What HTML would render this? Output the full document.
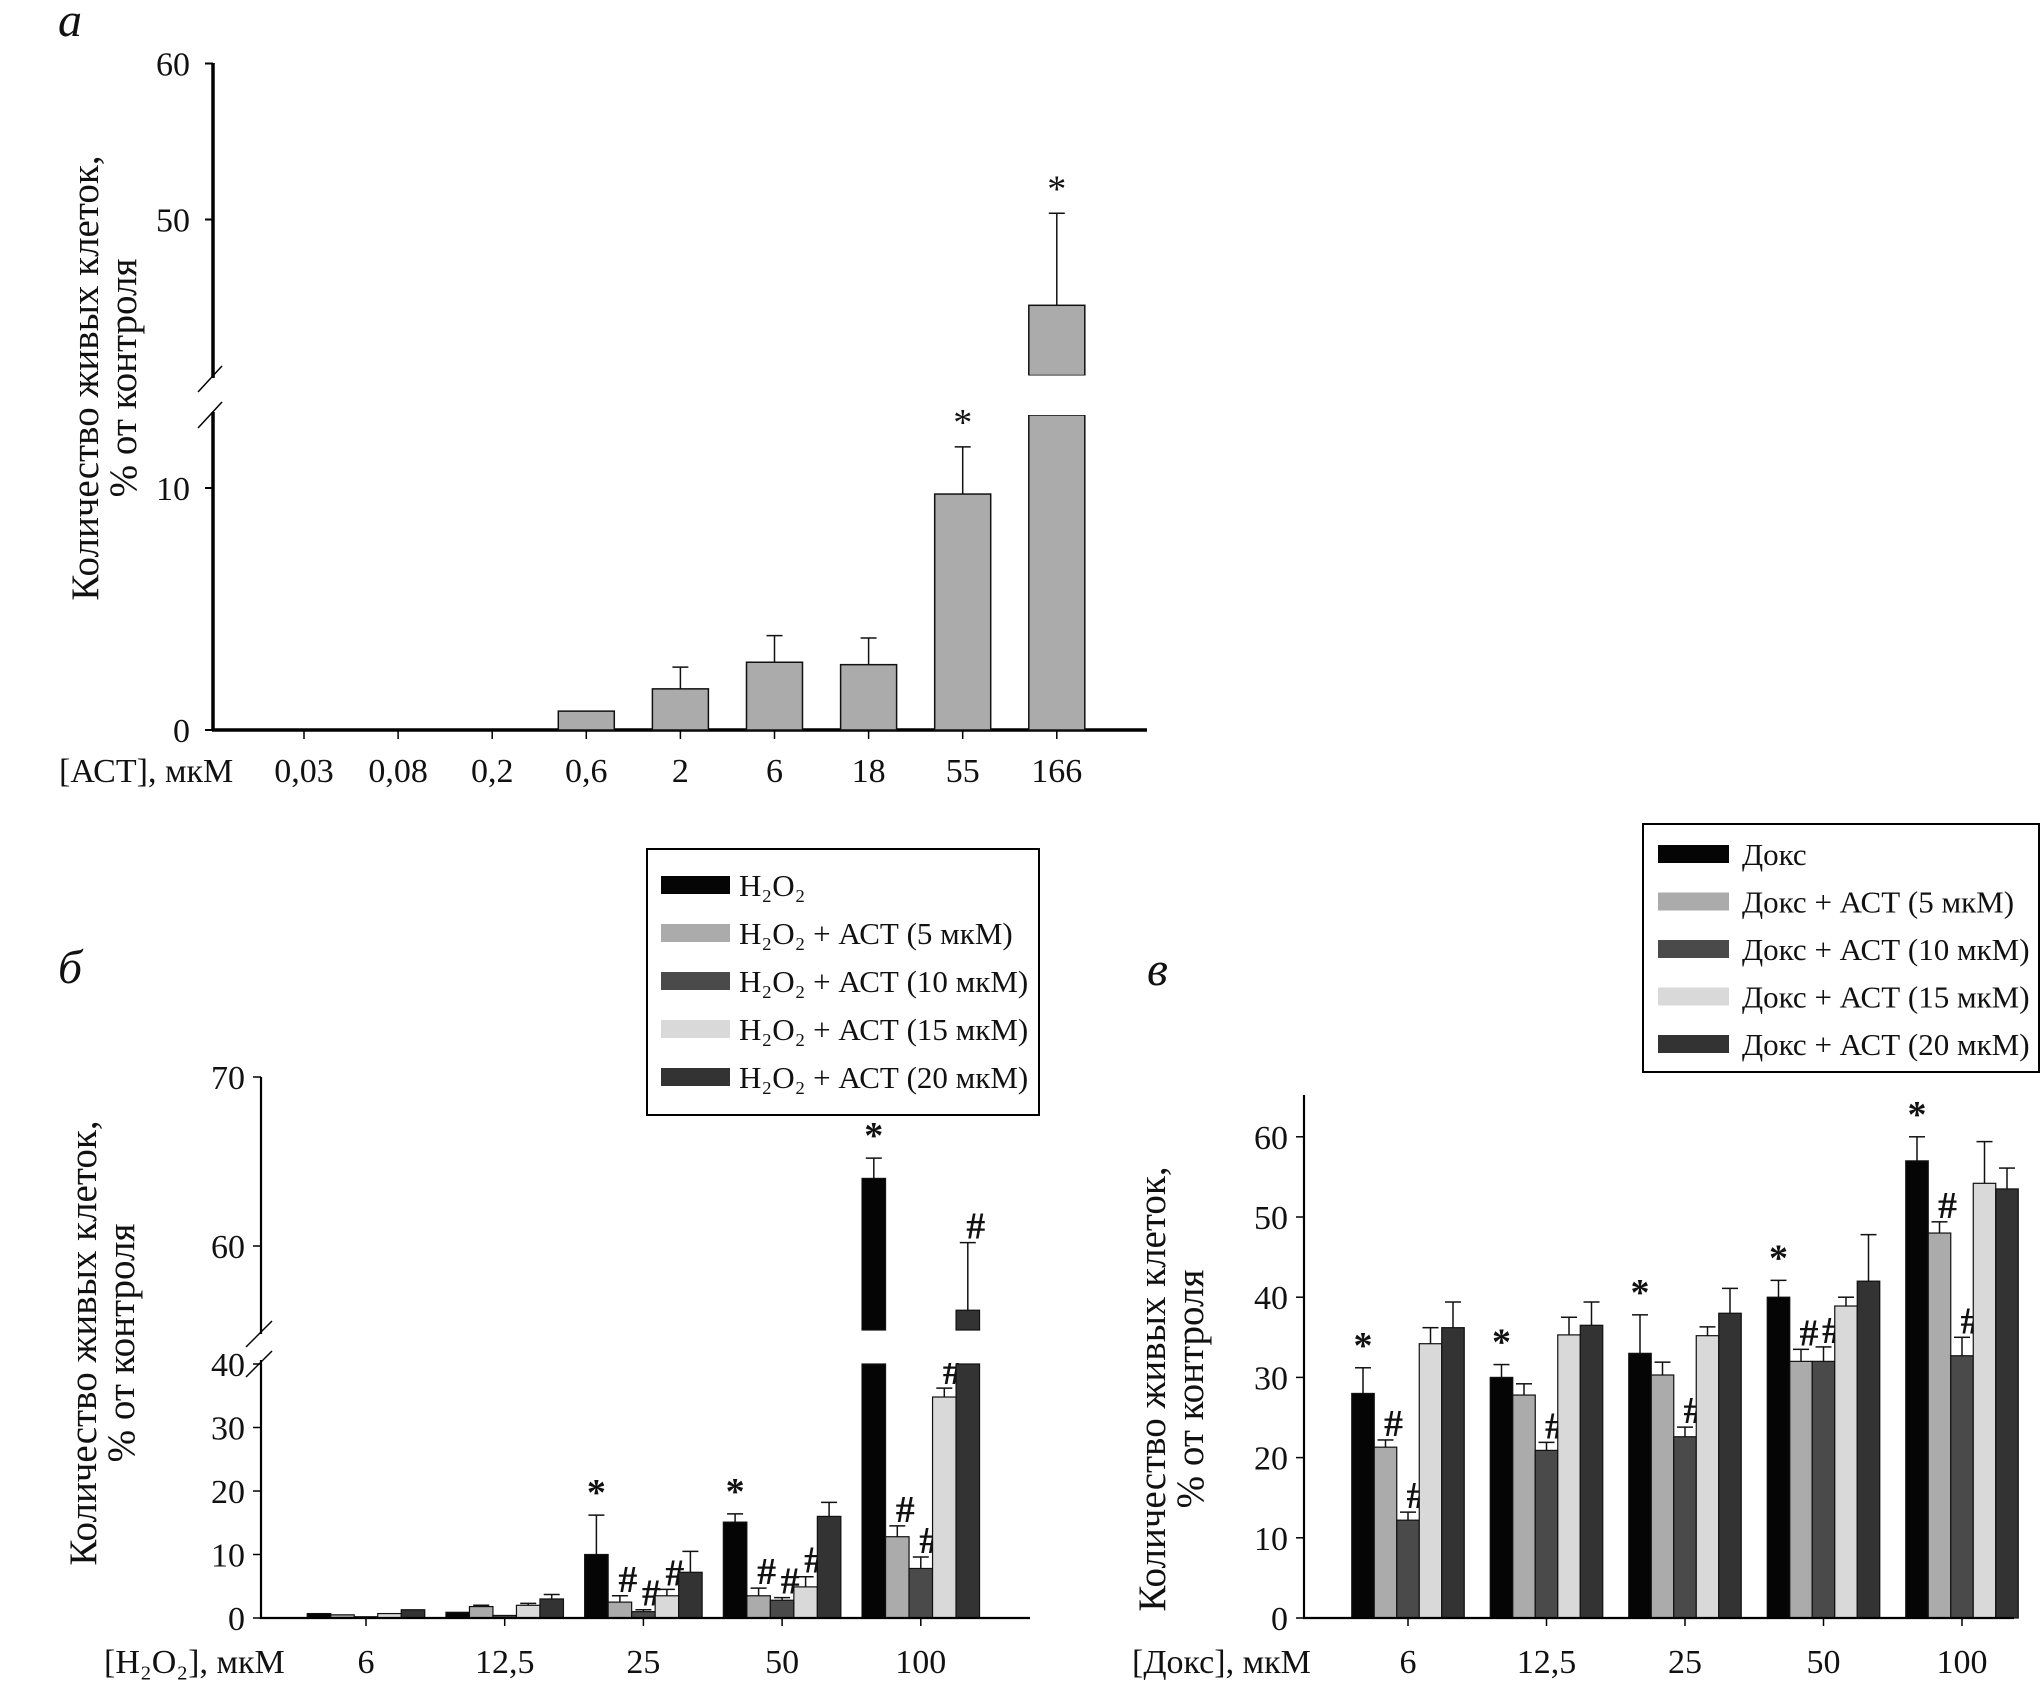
<!DOCTYPE html>
<html><head><meta charset="utf-8">
<style>
html,body{margin:0;padding:0;background:#fff;}
svg{display:block;}
text{font-family:"Liberation Serif","DejaVu Serif",serif;fill:#111;}
</style></head>
<body>
<svg id="fig" width="2043" height="1700" viewBox="0 0 2043 1700" xmlns="http://www.w3.org/2000/svg">
<g id="pa"></g>
<g id="pb"></g>
<g id="pc"></g>
</svg>
<script>
// ---- Panel A data ----
const aCategories = ["0,03","0,08","0,2","0,6","2","6","18","55","166"];
const aValues = [0,0,0,0.78,1.7,2.8,2.7,9.75,44.5];
const aErrors = [0,0,0,0,2.6,3.9,3.8,11.7,50.4];
const aStars = [false,false,false,false,false,false,false,true,true];
const aTicks = [0,10,40,50,60];

// ---- Panel B data ----
const bCategories = ["6","12,5","25","50","100"];
const bSeriesNames = ["H\u2082O\u2082","H\u2082O\u2082 + АСТ (5 мкМ)","H\u2082O\u2082 + АСТ (10 мкМ)","H\u2082O\u2082 + АСТ (15 мкМ)","H\u2082O\u2082 + АСТ (20 мкМ)"];
const bS0 = [0.7,0.9,10,15.1,64];
const bS1 = [0.5,1.8,2.5,3.5,12.8];
const bS2 = [0.2,0.4,1.0,2.8,7.8];
const bS3 = [0.7,2.0,3.5,4.9,34.8];
const bS4 = [1.3,3.0,7.2,16,56.2];
const bE0 = [0,0,16.2,16.4,65.2];
const bE1 = [0,2.0,3.5,4.7,14.5];
const bE2 = [0,0,1.3,3.2,9.6];
const bE3 = [0,2.3,4.5,6.5,36.2];
const bE4 = [0,3.7,10.5,18.2,60.2];
const bMarks = [["","","","",""],["","","","",""],["*","#","#","#",""],["*","#","#","#",""],["*","#","#","#","#"]];
const bTicks = [0,10,20,30,40,60,70];

// ---- Panel C data ----
const cCategories = ["6","12,5","25","50","100"];
const cSeriesNames = ["Докс","Докс + АСТ (5 мкМ)","Докс + АСТ (10 мкМ)","Докс + АСТ (15 мкМ)","Докс + АСТ (20 мкМ)"];
const cS0 = [28,30,33,40,57];
const cS1 = [21.3,27.8,30.3,32,48];
const cS2 = [12.2,20.9,22.6,32,32.7];
const cS3 = [34.2,35.3,35.2,38.9,54.2];
const cS4 = [36.2,36.5,38,42,53.5];
const cE0 = [31.2,31.6,37.8,42.1,60];
const cE1 = [22.2,29.2,31.9,33.5,49.4];
const cE2 = [13.2,21.9,23.8,33.8,35];
const cE3 = [36.2,37.5,36.3,40,59.4];
const cE4 = [39.4,39.4,41.1,47.8,56.1];
const cMarks = [["*","#","#","",""],["*","","#","",""],["*","","#","",""],["*","#","#","",""],["*","#","#","",""]];
const cTicks = [0,10,20,30,40,50,60];

const fills = ["#050505","#ababab","#4a4a4a","#d9d9d9","#333333"];
const NS = "http://www.w3.org/2000/svg";
const TICK_FS = 34, TITLE_FS = 39, LEG_FS = 31, MARK_FS = 38;
function mk(parent, tag, attrs, txt){
  const e = document.createElementNS(NS, tag);
  for (const k in attrs) e.setAttribute(k, attrs[k]);
  if (txt !== undefined) e.textContent = txt;
  parent.appendChild(e);
  return e;
}

function yA(v){ return v <= 40 ? 730 - v*24.2 : 375.5 - (v-40)*15.6; }
function xA(i){ return 304 + i*94.1; }
function yB(v){ return v <= 40 ? 1618 - v*6.35 : 1246 - (v-60)*16.9; }
function xB(i){ return 366 + i*138.7; }
function yC(v){ return 1618 - v*8.02; }
function xC(i){ return 1408 + i*138.5; }

// ===== Panel A =====
(function(){
  const g = document.getElementById('pa');
  let t = mk(g,'text',{x:58,y:36,'font-size':48,'font-style':'italic'},'а');
   
  let l = mk(g,'line',{x1:213,y1:63,x2:213,y2:378,stroke:'#000','stroke-width':3.5});
   
  l = mk(g,'line',{x1:213,y1:412,x2:213,y2:731,stroke:'#000','stroke-width':3.5});
   
  mk(g,'line',{x1:198,y1:392,x2:222,y2:366,stroke:'#000','stroke-width':1.5});
  mk(g,'line',{x1:198,y1:428,x2:222,y2:402,stroke:'#000','stroke-width':1.5});
  l = mk(g,'line',{x1:212,y1:730,x2:1147,y2:730,stroke:'#000','stroke-width':3.5});
   
  aTicks.forEach(v=>{
    const y = yA(v);
    mk(g,'line',{x1:205,y1:y,x2:213,y2:y,stroke:'#000','stroke-width':2});
    const tt = mk(g,'text',{x:190,y:y+12,'font-size':TICK_FS,'text-anchor':'end'},String(v));
     
  });
  const tl = mk(g,'text',{transform:'translate(98,378) rotate(-90)','font-size':TITLE_FS,'text-anchor':'middle'},'Количество живых клеток,');
   
  const tl2 = mk(g,'text',{transform:'translate(136,378) rotate(-90)','font-size':TITLE_FS,'text-anchor':'middle'},'% от контроля');
   
  const xt = mk(g,'text',{x:59,y:782,'font-size':TICK_FS},'[АСТ], мкМ');
   
  const bw = 56;
  aCategories.forEach((c,i)=>{
    const x = xA(i);
    mk(g,'line',{x1:x,y1:730,x2:x,y2:739,stroke:'#000','stroke-width':1.5});
    const lab = mk(g,'text',{x:x,y:782,'font-size':TICK_FS,'text-anchor':'middle'},c);
     
    const v = aValues[i];
    if (v > 0){
      if (v <= 40){
        const r = mk(g,'rect',{x:x-bw/2,y:yA(v),width:bw,height:730-yA(v),fill:fills[1],stroke:'#111','stroke-width':1.5});
         
      } else {
        const r = mk(g,'rect',{x:x-bw/2,y:415,width:bw,height:315,fill:fills[1],stroke:'#111','stroke-width':1.5});
         
        const r2 = mk(g,'rect',{x:x-bw/2,y:yA(v),width:bw,height:375.5-yA(v),fill:fills[1],stroke:'#111','stroke-width':1.5});
         
        mk(g,'rect',{x:x-bw/2-2,y:375.5,width:bw+4,height:39.5,fill:'#fff'});
      }
    }
    if (aErrors[i] > v){
      const e = mk(g,'line',{x1:x,y1:yA(v),x2:x,y2:yA(aErrors[i]),stroke:'#111','stroke-width':1.5});
       
      mk(g,'line',{x1:x-8,y1:yA(aErrors[i]),x2:x+8,y2:yA(aErrors[i]),stroke:'#111','stroke-width':1.5});
    }
    if (aStars[i]){
      const s = mk(g,'text',{x:x,y:yA(aErrors[i])-12,'font-size':MARK_FS,'text-anchor':'middle'},'*');
       
    }
  });
})();

function groupedPanel(gid, yF, xF, series, errors, marks, cats, ticks, opts){
  const g = document.getElementById(gid);
  const bw = opts.bw;
  cats.forEach((c,i)=>{
    const cx = xF(i);
    mk(g,'line',{x1:cx,y1:1618,x2:cx,y2:1626,stroke:'#000','stroke-width':1.5});
    const lab = mk(g,'text',{x:cx,y:1673,'font-size':TICK_FS,'text-anchor':'middle'},c);
     
    series.forEach((s,k)=>{
      const x = cx + (k-2)*bw - bw/2;
      const v = s[i];
      if (opts.brk && v > 40){
        const r = mk(g,'rect',{x:x,y:opts.brkLow,width:bw,height:1618-opts.brkLow,fill:fills[k],stroke:'#111','stroke-width':1.2});
         
        const r2 = mk(g,'rect',{x:x,y:yF(v),width:bw,height:opts.brkHigh-yF(v),fill:fills[k],stroke:'#111','stroke-width':1.2});
         
      } else {
        const r = mk(g,'rect',{x:x,y:yF(v),width:bw,height:1618-yF(v),fill:fills[k],stroke:'#111','stroke-width':1.2});
         
      }
      const ev = errors[k][i];
      const xc = x + bw/2;
      if (ev > v){
        const e = mk(g,'line',{x1:xc,y1:yF(v),x2:xc,y2:yF(ev),stroke:'#111','stroke-width':1.5});
         
        mk(g,'line',{x1:xc-8,y1:yF(ev),x2:xc+8,y2:yF(ev),stroke:'#111','stroke-width':1.5});
      }
      const m = marks[i][k];
      if (m){
        const top = Math.max(ev, v);
        const my = m === '*' ? yF(top) - 10 : yF(top) - 4;
        const mt = mk(g,'text',{x:xc + (m==='#'?8:0),y:my,'font-size':MARK_FS,'text-anchor':'middle','font-weight':'bold'},m);
         
      }
    });
  });
  ticks.forEach(v=>{
    const y = yF(v);
    mk(g,'line',{x1:opts.ax-8,y1:y,x2:opts.ax,y2:y,stroke:'#000','stroke-width':1.5});
    const tt = mk(g,'text',{x:opts.ax-16,y:y+12,'font-size':TICK_FS,'text-anchor':'end'},String(v));
     
  });
  return g;
}

// ===== Panel B =====
(function(){
  const g = groupedPanel('pb', yB, xB, [bS0,bS1,bS2,bS3,bS4], [bE0,bE1,bE2,bE3,bE4], bMarks, bCategories, bTicks, {bw:23.5, brk:true, brkLow:1364, brkHigh:1330, ax:261});
  mk(g,'rect',{x:840,y:1331,width:160,height:32,fill:'#fff'});
  let t = mk(g,'text',{x:58,y:983,'font-size':48,'font-style':'italic'},'б');
   
  let l = mk(g,'line',{x1:261,y1:1077,x2:261,y2:1334,stroke:'#000','stroke-width':2.2});
   
  l = mk(g,'line',{x1:261,y1:1360,x2:261,y2:1619,stroke:'#000','stroke-width':2.2});
   
  mk(g,'line',{x1:246,y1:1347,x2:272,y2:1321,stroke:'#000','stroke-width':1.5});
  mk(g,'line',{x1:246,y1:1377,x2:272,y2:1351,stroke:'#000','stroke-width':1.5});
  l = mk(g,'line',{x1:260,y1:1618,x2:1030,y2:1618,stroke:'#000','stroke-width':2.2});
   
  const tl = mk(g,'text',{transform:'translate(96,1343) rotate(-90)','font-size':TITLE_FS,'text-anchor':'middle'},'Количество живых клеток,');
   
  const tl2 = mk(g,'text',{transform:'translate(134,1343) rotate(-90)','font-size':TITLE_FS,'text-anchor':'middle'},'% от контроля');
   
  const xt = mk(g,'text',{x:104,y:1673,'font-size':TICK_FS},'[H\u2082O\u2082], мкМ');
   
  const lg = mk(g,'g',{});
   
  mk(lg,'rect',{x:647,y:849,width:392,height:266,fill:'#fff',stroke:'#000','stroke-width':2});
  bSeriesNames.forEach((n,k)=>{
    const y = 885 + k*48;
    const e = mk(lg,'g',{});
     
    mk(e,'rect',{x:661,y:y-9,width:69,height:18,fill:fills[k]});
    mk(e,'text',{x:739,y:y+11,'font-size':LEG_FS},n);
  });
})();

// ===== Panel C =====
(function(){
  const g = groupedPanel('pc', yC, xC, [cS0,cS1,cS2,cS3,cS4], [cE0,cE1,cE2,cE3,cE4], cMarks, cCategories, cTicks, {bw:22.5, brk:false, ax:1304});
  let t = mk(g,'text',{x:1147,y:985,'font-size':48,'font-style':'italic'},'в');
   
  let l = mk(g,'line',{x1:1304,y1:1095,x2:1304,y2:1619,stroke:'#000','stroke-width':2.2});
   
  l = mk(g,'line',{x1:1303,y1:1618,x2:2014,y2:1618,stroke:'#000','stroke-width':2.2});
   
  const tl = mk(g,'text',{transform:'translate(1165,1389) rotate(-90)','font-size':TITLE_FS,'text-anchor':'middle'},'Количество живых клеток,');
   
  const tl2 = mk(g,'text',{transform:'translate(1203,1389) rotate(-90)','font-size':TITLE_FS,'text-anchor':'middle'},'% от контроля');
   
  const xt = mk(g,'text',{x:1132,y:1673,'font-size':TICK_FS},'[Докс], мкМ');
   
  const lg = mk(g,'g',{});
   
  mk(lg,'rect',{x:1643,y:824,width:396,height:248,fill:'#fff',stroke:'#000','stroke-width':2});
  cSeriesNames.forEach((n,k)=>{
    const y = 854 + k*47.5;
    const e = mk(lg,'g',{});
     
    mk(e,'rect',{x:1658,y:y-9,width:71,height:18,fill:fills[k]});
    mk(e,'text',{x:1742,y:y+11,'font-size':LEG_FS},n);
  });
})();
</script>
</body></html>
